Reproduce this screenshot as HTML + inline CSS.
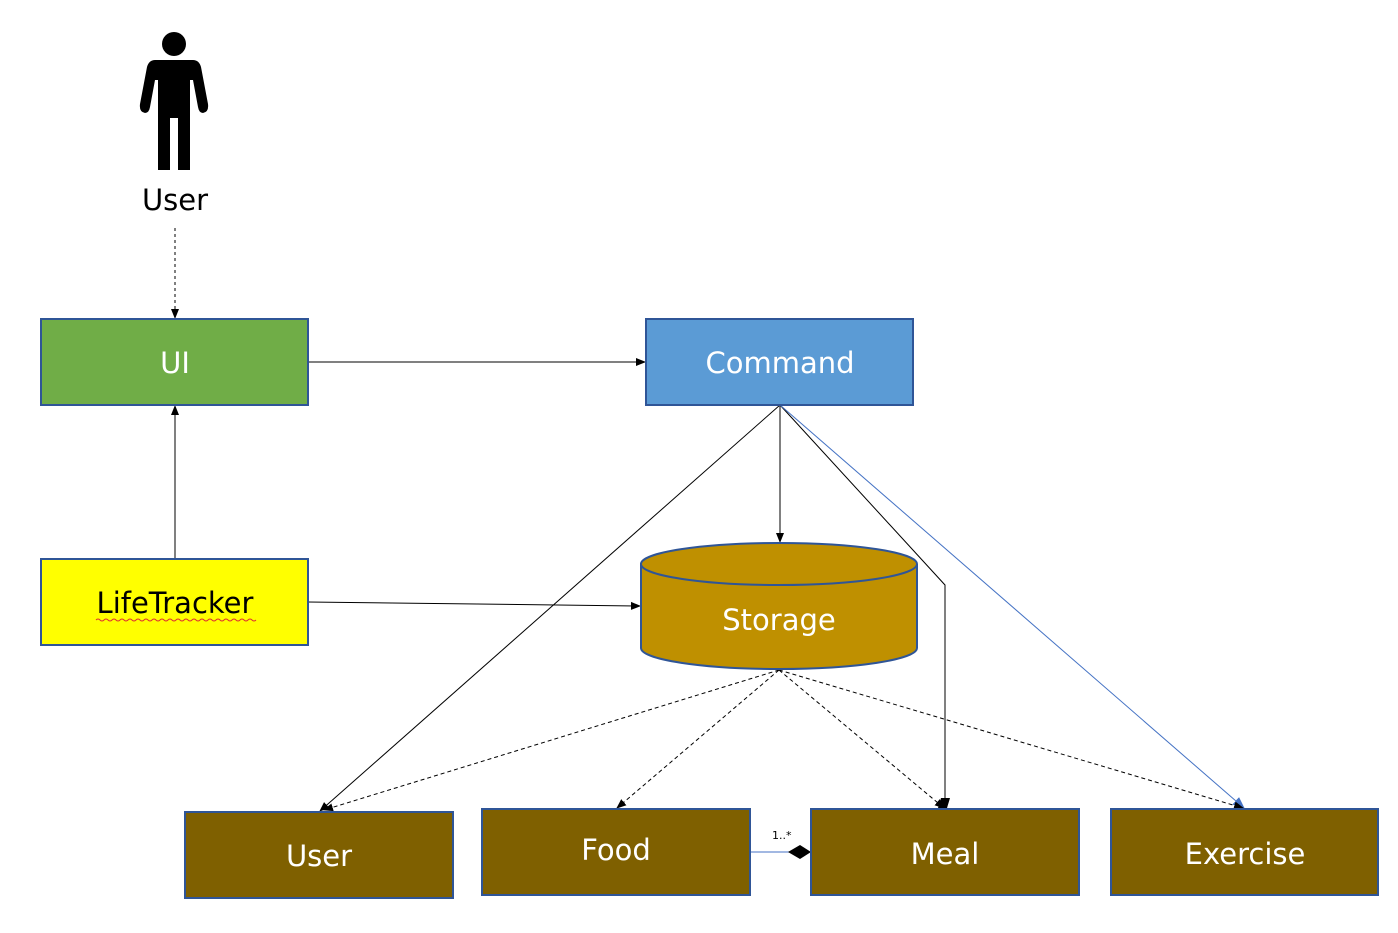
<!DOCTYPE html>
<html><head><meta charset="utf-8"><style>
html,body{margin:0;padding:0;background:#fff}
svg text{font-family:"DejaVu Sans","Liberation Sans",sans-serif}
</style></head><body>
<svg width="1398" height="928" viewBox="0 0 1398 928" xmlns="http://www.w3.org/2000/svg">
<defs>
<marker id="a" markerWidth="10" markerHeight="10" refX="9" refY="5" orient="auto" markerUnits="userSpaceOnUse"><path d="M0,1 L10,5 L0,9 z" fill="#000"/></marker>
<marker id="ab" markerWidth="12" markerHeight="12" refX="11" refY="6" orient="auto" markerUnits="userSpaceOnUse"><path d="M0,1 L12,6 L0,11 z" fill="#4472c4"/></marker>
</defs>
<!-- person -->
<circle cx="174" cy="44" r="12" fill="#000"/>
<path d="M155,60 L193,60 Q199,60 201,67 L208,104 Q209,112 203,113 Q199,113 198,107 L193,80 L190,80 L190,170 L178,170 L178,118 L170,118 L170,170 L158,170 L158,80 L155,80 L150,107 Q149,113 145,113 Q139,112 140,104 L147,67 Q149,60 155,60 z" fill="#000"/>
<text x="175" y="210" font-size="29" text-anchor="middle" fill="#000">User</text>
<!-- connectors -->
<line x1="175" y1="228" x2="175" y2="318" stroke="#000" stroke-dasharray="3,3" marker-end="url(#a)"/>
<line x1="308" y1="362" x2="645" y2="362" stroke="#000" marker-end="url(#a)"/>
<line x1="175" y1="559" x2="175" y2="406" stroke="#000" marker-end="url(#a)"/>
<line x1="308" y1="602" x2="640" y2="606" stroke="#000" marker-end="url(#a)"/>
<line x1="780" y1="405" x2="780" y2="542" stroke="#000" marker-end="url(#a)"/>
<line x1="780" y1="405" x2="320" y2="811" stroke="#000" marker-end="url(#a)"/>
<polyline points="780,405 945,585 945,808" fill="none" stroke="#000"/>
<path d="M938,808 L941,798 L950,798 L947,808 z" fill="#000"/>
<line x1="780" y1="405" x2="1244" y2="808" stroke="#4472c4" marker-end="url(#ab)"/>
<g stroke="#000" stroke-dasharray="4,3" fill="none">
<line x1="779" y1="670" x2="324" y2="810" marker-end="url(#a)"/>
<line x1="779" y1="670" x2="617" y2="808" marker-end="url(#a)"/>
<line x1="779" y1="670" x2="944" y2="808" marker-end="url(#a)"/>
<line x1="779" y1="670" x2="1243" y2="808" marker-end="url(#a)"/>
</g>
<line x1="750" y1="852" x2="792" y2="852" stroke="#4472c4"/>
<path d="M788,852 L800,845 L811,852 L800,859 z" fill="#000"/>
<text x="772" y="839" font-size="11" fill="#000">1..*</text>
<!-- boxes -->
<rect x="41" y="319" width="267" height="86" fill="#70ad47" stroke="#2f5597" stroke-width="2"/>
<text x="175" y="373" font-size="29" text-anchor="middle" fill="#fff">UI</text>
<rect x="646" y="319" width="267" height="86" fill="#5b9bd5" stroke="#2f5597" stroke-width="2"/>
<text x="780" y="373" font-size="29" text-anchor="middle" fill="#fff">Command</text>
<rect x="41" y="559" width="267" height="86" fill="#ffff00" stroke="#2f5597" stroke-width="2"/>
<text x="175" y="613" font-size="29" text-anchor="middle" fill="#000">LifeTracker</text>
<path d="M96,620 q2,-2 4,0 t4,0 t4,0 t4,0 t4,0 t4,0 t4,0 t4,0 t4,0 t4,0 t4,0 t4,0 t4,0 t4,0 t4,0 t4,0 t4,0 t4,0 t4,0 t4,0 t4,0 t4,0 t4,0 t4,0 t4,0 t4,0 t4,0 t4,0 t4,0 t4,0 t4,0 t4,0 t4,0 t4,0 t4,0 t4,0 t4,0 t4,0 t4,0 t4,0" fill="none" stroke="#e03030" stroke-width="1"/>
<!-- storage -->
<path d="M641,564 L641,648 A138,21 0 0 0 917,648 L917,564" fill="#bf9000" stroke="#2f5597" stroke-width="2"/>
<ellipse cx="779" cy="564" rx="138" ry="21" fill="#bf9000" stroke="#2f5597" stroke-width="2"/>
<text x="779" y="630" font-size="29" text-anchor="middle" fill="#fff">Storage</text>
<rect x="185" y="812" width="268" height="86" fill="#7f6000" stroke="#2f5597" stroke-width="2"/>
<text x="319" y="866" font-size="29" text-anchor="middle" fill="#fff">User</text>
<rect x="482" y="809" width="268" height="86" fill="#7f6000" stroke="#2f5597" stroke-width="2"/>
<text x="616" y="860" font-size="29" text-anchor="middle" fill="#fff">Food</text>
<rect x="811" y="809" width="268" height="86" fill="#7f6000" stroke="#2f5597" stroke-width="2"/>
<text x="945" y="864" font-size="29" text-anchor="middle" fill="#fff">Meal</text>
<rect x="1111" y="809" width="267" height="86" fill="#7f6000" stroke="#2f5597" stroke-width="2"/>
<text x="1245" y="864" font-size="29" text-anchor="middle" fill="#fff">Exercise</text>
</svg>
</body></html>
